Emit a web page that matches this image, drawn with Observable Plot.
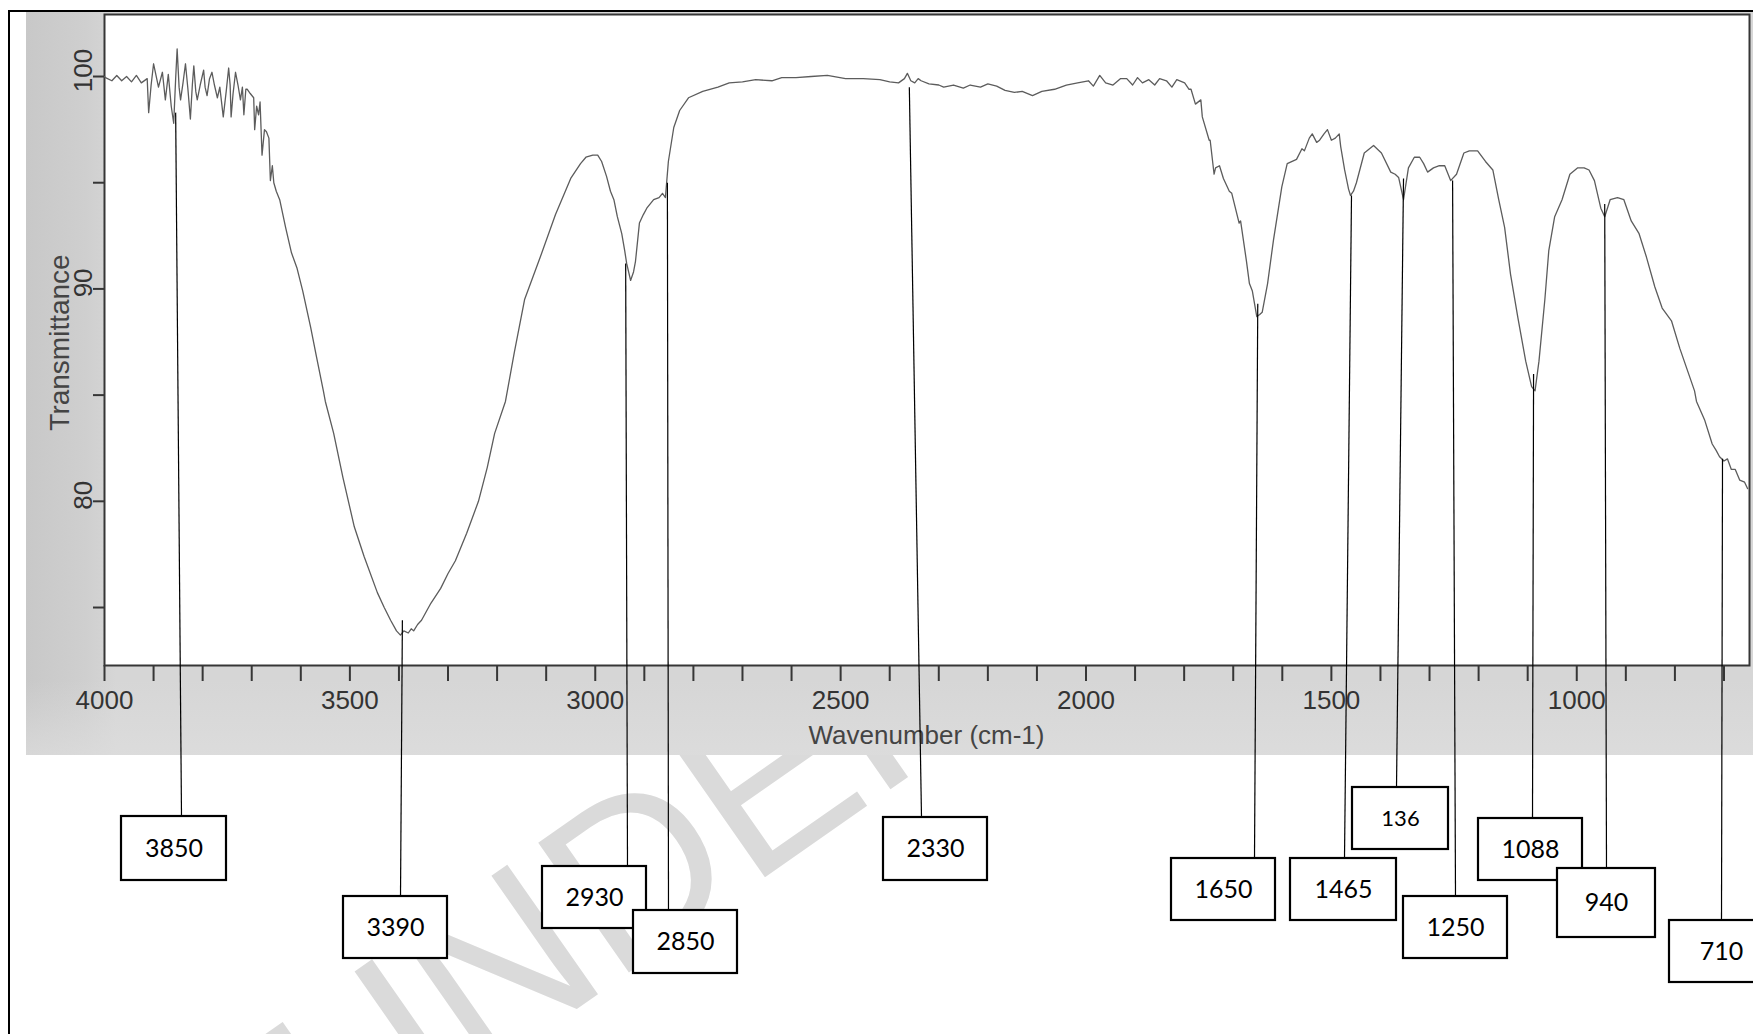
<!DOCTYPE html>
<html>
<head>
<meta charset="utf-8">
<script src="https://cdn.jsdelivr.net/npm/d3@7"></script>
<script src="https://cdn.jsdelivr.net/npm/@observablehq/plot@0.6"></script>
<style>
  body { margin: 0; background: #ffffff; }
  #page { position: relative; width: 1753px; height: 1034px; overflow: hidden; background: #fff; }
  #border { position: absolute; left: 8px; top: 10px; width: 1780px; height: 1060px;
            border-left: 2px solid #000; border-top: 2px solid #000; }
  #watermark { position: absolute; left: 230px; top: 1015px; font-family: "Liberation Sans", Arial, sans-serif;
               font-size: 230px; color: #dadada; white-space: nowrap; transform-origin: 0 0;
               transform: rotate(-35deg); line-height: 1; }
  #scan { position: absolute; left: 26px; top: 12px; width: 1727px; height: 743px;
          background: linear-gradient(to right, #c8c8c8 0px, #cfcfcf 60px, #d6d6d6 90px, #d6d6d6 100%); }
  #scanbottom { position: absolute; left: 26px; top: 680px; width: 1727px; height: 75px;
          background: linear-gradient(to bottom, rgba(220,220,220,0) 0%, rgba(222,222,222,0.7) 100%); }
  #chart { position: absolute; left: 0; top: 0; }
</style>
</head>
<body>
<div id="page">
  <div id="border"></div>
  <div id="watermark">UNDER</div>
  <div id="scan"></div>
  <div id="scanbottom"></div>
  <div id="chart"></div>
</div>
<script>
// ---- spectrum (wavenumber in cm-1, % transmittance) ----
const wavenumber = [
  4000,3998,3985,3975,3965,3955,3945,3935,3925,3913,3910,3905,3900,3890,3882,3876,3870,3864,3859,3855,
  3852,3848,3845,3840,3835,3830,3825,3821,3818,3814,3811,3805,3798,3795,3791,3786,3781,3776,3770,3765,
  3758,3752,3747,3744,3742,3738,3733,3728,3723,3719,3716,3712,3709,3703,3696,3694,3690,3686,3683,3679,
  3674,3670,3665,3662,3658,3655,3650,3643,3631,3619,3608,3596,3580,3568,3554,3550,3533,3514,3491,3471,
  3444,3430,3417,3405,3397,3390,3381,3375,3370,3362,3354,3335,3315,3300,3285,3262,3238,3220,3205,3183,
  3165,3144,3112,3081,3050,3030,3019,3005,2995,2987,2977,2969,2962,2955,2946,2940,2936,2928,2922,2918,
  2910,2902,2895,2881,2870,2863,2857,2851,2840,2828,2810,2781,2750,2727,2700,2673,2640,2620,2591,2560,
  2527,2490,2454,2420,2400,2382,2370,2364,2357,2349,2342,2336,2320,2300,2290,2270,2250,2236,2215,2200,
  2182,2165,2146,2130,2109,2090,2064,2040,2017,1995,1985,1972,1960,1945,1930,1917,1905,1895,1885,1872,
  1860,1850,1836,1825,1815,1799,1790,1786,1777,1766,1763,1749,1747,1739,1736,1728,1720,1708,1703,1688,
  1685,1673,1667,1661,1652,1646,1641,1630,1618,1601,1590,1571,1560,1555,1545,1539,1530,1524,1515,1508,
  1500,1492,1484,1481,1473,1465,1461,1455,1449,1433,1414,1398,1379,1370,1363,1353,1343,1331,1320,1312,
  1304,1292,1280,1269,1257,1245,1230,1219,1202,1186,1171,1159,1147,1135,1120,1104,1092,1085,1077,1065,
  1057,1045,1030,1014,998,985,975,964,951,943,932,917,904,889,873,858,841,826,807,790,
  775,760,756,739,724,716,709,700,693,685,677,668,658,652
];
const transmittance = [
  100.0,99.95,99.8,100.05,99.8,100.0,99.75,100.05,99.7,99.9,98.3,99.6,100.6,99.5,100.2,98.9,100.1,98.6,97.8,99.9,
  101.3,99.5,98.9,99.7,100.6,99.4,98.0,99.6,100.5,99.3,98.9,99.6,100.3,99.5,99.1,99.9,100.2,99.6,99.0,99.5,
  98.1,99.3,100.4,99.6,98.1,99.2,100.2,99.6,98.9,99.5,98.2,99.4,99.4,99.2,99.0,97.5,98.6,98.2,98.8,96.3,
  97.5,97.4,97.1,95.1,95.8,95.0,94.6,94.2,92.9,91.7,91.0,89.9,88.2,86.8,85.2,84.7,83.2,81.1,78.8,77.4,
  75.7,75.0,74.4,73.9,73.7,73.9,73.8,74.0,73.9,74.2,74.4,75.2,75.9,76.6,77.2,78.5,80.0,81.6,83.2,84.7,
  87.0,89.5,91.5,93.5,95.2,95.9,96.2,96.3,96.3,96.0,95.3,94.6,94.2,93.4,92.6,91.8,91.2,90.4,90.8,91.3,
  93.1,93.5,93.8,94.2,94.3,94.5,94.3,96.0,97.6,98.4,99.0,99.3,99.5,99.7,99.75,99.85,99.8,99.95,99.95,100.0,
  100.05,99.9,99.9,99.85,99.75,99.7,99.9,100.15,99.8,99.7,99.9,99.8,99.65,99.6,99.5,99.6,99.45,99.6,99.5,99.65,
  99.55,99.35,99.25,99.3,99.1,99.3,99.4,99.6,99.7,99.8,99.55,100.05,99.7,99.6,99.9,99.9,99.6,99.95,99.7,99.85,
  99.6,99.9,99.8,99.5,99.85,99.7,99.4,99.4,98.7,98.9,98.1,97.0,97.0,95.4,95.7,95.8,95.2,94.6,94.5,93.1,
  93.2,91.3,90.25,89.9,88.7,88.8,88.9,90.25,92.3,94.8,95.9,96.1,96.6,96.5,97.1,97.3,96.9,97.0,97.3,97.5,
  97.0,97.1,97.3,96.7,95.6,94.7,94.4,94.6,95.0,96.4,96.75,96.4,95.5,95.4,95.25,94.2,95.7,96.2,96.2,95.9,
  95.5,95.7,95.8,95.8,95.1,95.4,96.4,96.5,96.5,96.0,95.6,94.2,92.9,90.7,88.65,86.6,85.4,85.2,86.6,89.5,
  91.8,93.4,94.2,95.4,95.7,95.7,95.6,95.1,93.8,93.4,94.2,94.3,94.2,93.2,92.6,91.5,90.1,89.1,88.5,87.2,
  86.2,85.2,84.7,83.8,82.7,82.4,82.1,81.9,82.0,81.5,81.5,81.0,80.9,80.6
];

// ---- axes ----
const xTicks = d3.range(700, 4001, 100);
const xTickLabels = [4000, 3500, 3000, 2500, 2000, 1500, 1000];
const yTicks = [75, 80, 85, 90, 95, 100];
const yTickLabels = [80, 90, 100];
const xTitle = "Wavenumber (cm-1)";
const yTitle = "Transmittance";

// ---- peak annotations: label, and the point on the trace where its leader starts ----
const peakLabels = ["3850", "3390", "2930", "2850", "2330", "1650", "1465", "136", "1250", "1088", "940", "710"];
const peakWavenumber = [3855, 3393, 2938, 2853, 2360, 1650, 1459, 1353, 1253, 1088, 943, 703];
const peakTransmittance = [98.3, 74.4, 91.2, 95.0, 99.5, 89.3, 94.4, 95.2, 95.1, 86.0, 94.0, 82.0];

// ---- layout of the label boxes (pixels): box left/right/top/bottom and leader foot x ----
const boxLeft   = [121, 343, 542, 633, 883, 1171, 1290, 1352, 1403, 1478, 1557, 1669];
const boxRight  = [226, 447, 646, 737, 987, 1275, 1396, 1448, 1507, 1582, 1655, 1773];
const boxTop    = [816, 896, 866, 910, 817, 858, 858, 787, 896, 818, 868, 920];
const boxBottom = [880, 958, 928, 973, 880, 920, 920, 849, 958, 880, 937, 982];
const leaderFootX = [181, 400, 627, 668, 921, 1254, 1344, 1396, 1455, 1532, 1606, 1721];
const boxFontSize = [25, 25, 25, 25, 25, 25, 25, 22, 25, 25, 25, 25];

// ---- frame geometry ----
const W = 1753, H = 1034;
const mL = 104, mR = 4, mT = 14, mB = H - 665;
const xDomain = [4000, 648];
const yDomain = [72.27, 102.92];

const xs = Plot.scale({x: {domain: xDomain, range: [mL, W - mR]}});
const ys = Plot.scale({y: {domain: yDomain, range: [H - mB, mT]}});

const spectrum = wavenumber.map((w, i) => ({wn: w, t: transmittance[i]}));
const notes = peakLabels.map((label, i) => ({
  label,
  wn: peakWavenumber[i],
  t: peakTransmittance[i],
  footWn: xs.invert(leaderFootX[i]),
  footT: ys.invert(boxTop[i]),
  x1: xs.invert(boxLeft[i]), x2: xs.invert(boxRight[i]),
  y1: ys.invert(boxBottom[i]), y2: ys.invert(boxTop[i]),
  cx: xs.invert((boxLeft[i] + boxRight[i]) / 2),
  cy: ys.invert((boxTop[i] + boxBottom[i]) / 2),
  fs: boxFontSize[i]
}));

const ink = "#363636";
const chart = Plot.plot({
  width: W, height: H,
  marginLeft: mL, marginRight: mR, marginTop: mT, marginBottom: mB,
  x: {domain: xDomain, axis: null},
  y: {domain: yDomain, axis: null},
  style: {background: "transparent", fontFamily: "'Liberation Sans', Arial, sans-serif", overflow: "visible"},
  marks: [
    Plot.frame({fill: "white", stroke: ink, strokeWidth: 2}),
    Plot.line(spectrum, {x: "wn", y: "t", stroke: "#5c5c5c", strokeWidth: 1.3, curve: "linear"}),
    Plot.axisX({ticks: xTicks, tickSize: 16, tickPadding: 9, stroke: ink, strokeWidth: 2,
                tickFormat: d => xTickLabels.includes(d) ? String(d) : "", fontSize: 26, fill: "#333", label: null}),
    Plot.axisY({ticks: yTicks, tickSize: 11, stroke: ink, strokeWidth: 2, tickFormat: () => "", label: null}),
    Plot.text(yTickLabels, {x: () => xDomain[0], y: d => d, dx: -21, dy: -6, rotate: -90, text: d => String(d),
                            fontSize: 26, fill: "#333", textAnchor: "middle", lineAnchor: "middle"}),
    Plot.text([yTitle], {x: () => xDomain[0], y: () => ys.invert(342), dx: -44, rotate: -90, text: d => d,
                         fontSize: 28, fill: "#444", textAnchor: "middle", lineAnchor: "middle"}),
    Plot.text([xTitle], {x: () => xs.invert(926), y: () => ys.invert(735), text: d => d,
                         fontSize: 26, fill: "#444", textAnchor: "middle", lineAnchor: "middle"}),
    Plot.link(notes, {x1: "wn", y1: "t", x2: "footWn", y2: "footT", stroke: "#000", strokeWidth: 1.2}),
    Plot.rect(notes, {x1: "x1", x2: "x2", y1: "y1", y2: "y2", fill: "white", stroke: "#000", strokeWidth: 2.2}),
    Plot.text(notes, {x: "cx", y: "cy", text: "label", fontSize: d => d.fs, fill: "#000",
                      fontFamily: "Lato, 'Open Sans', sans-serif", textAnchor: "middle", lineAnchor: "middle"})
  ]
});
document.getElementById("chart").appendChild(chart);
</script>
</body>
</html>
